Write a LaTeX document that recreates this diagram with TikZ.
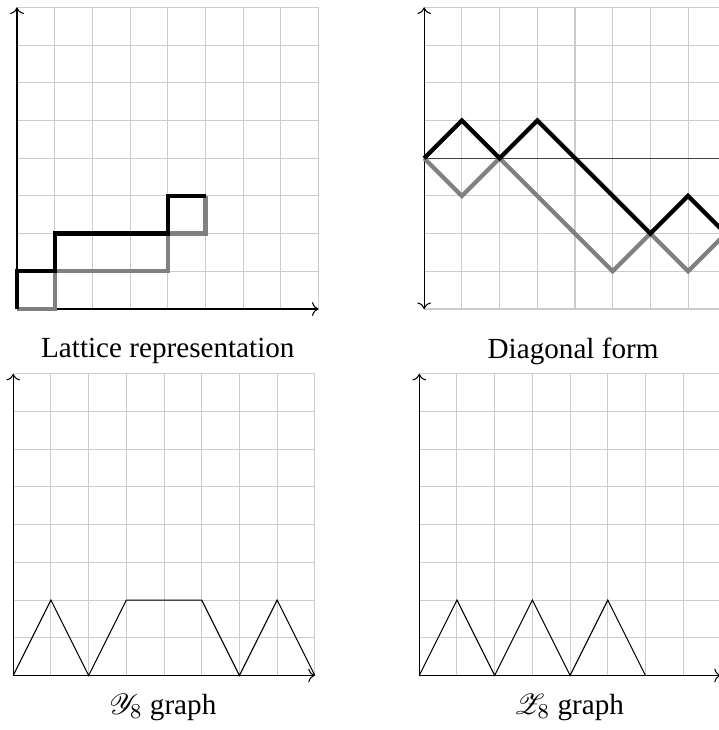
\documentclass[tikz,border=0pt]{standalone}
\usepackage{fontspec}
\setmainfont{Liberation Serif}
\usepackage{mathrsfs}
\usepackage{tikz}
\usetikzlibrary{arrows.meta}
\tikzset{
  gridline/.style  = {gray!40,thin,step=1},
  axisline/.style  = {->,black},
  lowpath/.style   = {gray,ultra thick},
  highpath/.style  = {black,ultra thick},
  heightline/.style = {black,thin},
  caption/.style   = {font=\fontsize{11}{13}\selectfont}
}
\newcommand{\panelgrid}[2]{%
  \draw[gridline] (0,#1) grid (8,#2);
}

\begin{document}
\begin{tikzpicture}[x=0.5cm,y=0.5cm]
  \useasboundingbox (-0.451,-11.167) rectangle (18.594,8.196);
  % lattice representation
  \begin{scope}
    \panelgrid{0}{8}
    \draw[axisline] (0,0) -- (8,0);
    \draw[axisline] (0,0) -- (0,8);
    \draw[lowpath] (0,0) -- (1,0) -- (1,1) -- (4,1) -- (4,2) -- (5,2) -- (5,3);
    \draw[highpath] (0,0) -- (0,1) -- (1,1) -- (1,2) -- (4,2) -- (4,3) -- (5,3);
    \node[caption] (latticecap) at (4,-1.12) {Lattice representation};
  \end{scope}
  % diagonal form
  \begin{scope}[shift={(10.8,4)}]
    \panelgrid{-4}{4}
    \draw[->,black!75] (0,0) -- (8,0);
    \draw[<->,black] (0,-4) -- (0,4);
    \draw[lowpath] (0,0) -- (1,-1) -- (2,0) -- (3,-1) -- (4,-2) -- (5,-3) -- (6,-2) -- (7,-3) -- (8,-2);
    \draw[highpath] (0,0) -- (1,1) -- (2,0) -- (3,1) -- (4,0) -- (5,-1) -- (6,-2) -- (7,-1) -- (8,-2);
    \node[caption] (diagcap) at (3.95,-5.12) {Diagonal form};
  \end{scope}
  % Y_8 graph
  \begin{scope}[shift={(-0.1,-9.72)}]
    \panelgrid{0}{8}
    \draw[axisline] (0,0) -- (8,0);
    \draw[axisline] (0,0) -- (0,8);
    \draw[heightline] (0,0) -- (1,2) -- (2,0) -- (3,2) -- (5,2) -- (6,0) -- (7,2) -- (8,0);
    \node[caption] (ycap) at (3.97,-0.84) {$\mathscr{Y}_8$ graph};
  \end{scope}
  % Z_8 graph
  \begin{scope}[shift={(10.67,-9.72)}]
    \panelgrid{0}{8}
    \draw[axisline] (0,0) -- (8,0);
    \draw[axisline] (0,0) -- (0,8);
    \draw[heightline] (0,0) -- (1,2) -- (2,0) -- (3,2) -- (4,0) -- (5,2) -- (6,0);
    \node[caption] (zcap) at (3.97,-0.84) {$\mathscr{Z}_8$ graph};
  \end{scope}
\end{tikzpicture}
\end{document}
